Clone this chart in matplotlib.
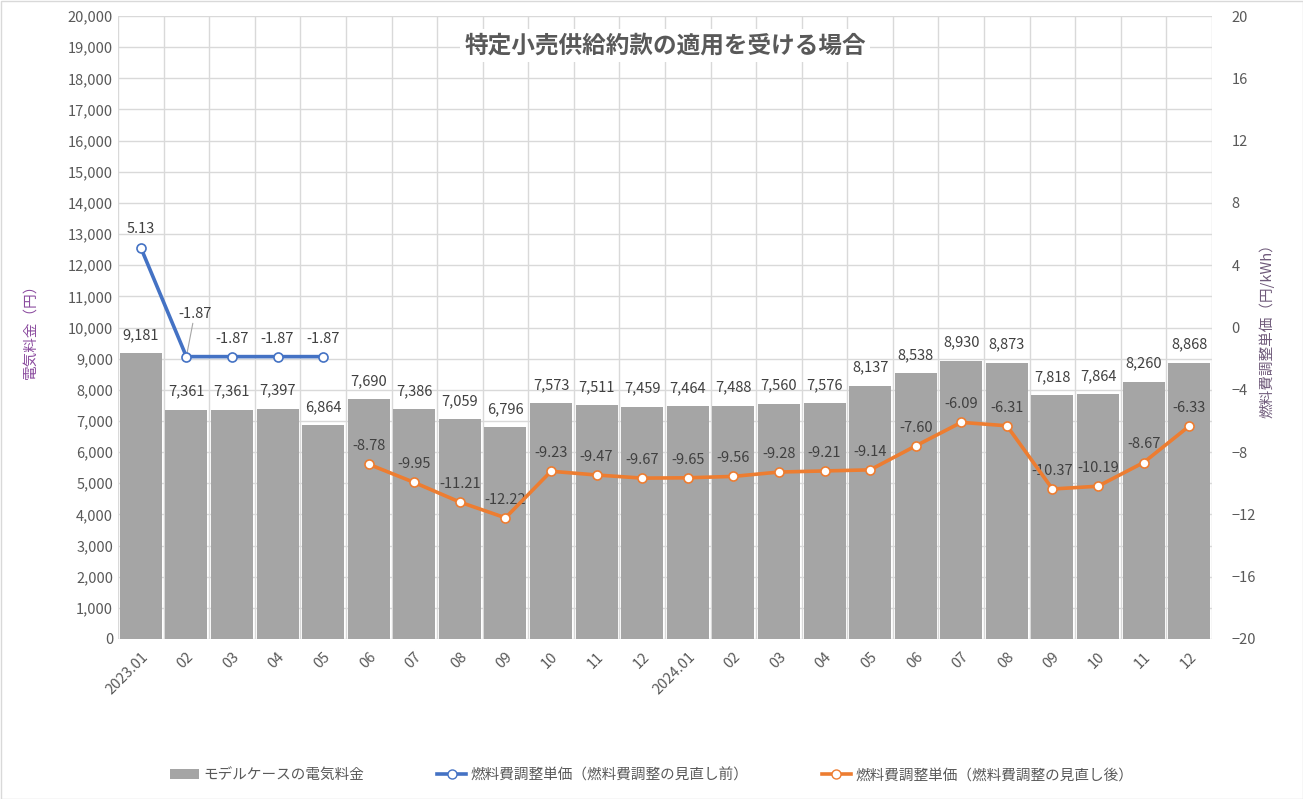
import matplotlib
matplotlib.use("Agg")
import matplotlib.pyplot as plt
from matplotlib.patches import Patch, Rectangle
from matplotlib.lines import Line2D
import numpy as np

plt.rcParams['font.family'] = ['Noto Sans CJK JP', 'DejaVu Sans']

months = ["2023.01", "02", "03", "04", "05", "06", "07", "08", "09", "10", "11", "12",
          "2024.01", "02", "03", "04", "05", "06", "07", "08", "09", "10", "11", "12"]
bill = [9181, 7361, 7361, 7397, 6864, 7690, 7386, 7059, 6796, 7573, 7511, 7459,
        7464, 7488, 7560, 7576, 8137, 8538, 8930, 8873, 7818, 7864, 8260, 8868]
before_idx = [0, 1, 2, 3, 4]
before_vals = [5.13, -1.87, -1.87, -1.87, -1.87]
after_idx = list(range(5, 24))
after_vals = [-8.78, -9.95, -11.21, -12.22, -9.23, -9.47, -9.67, -9.65, -9.56, -9.28,
              -9.21, -9.14, -7.60, -6.09, -6.31, -10.37, -10.19, -8.67, -6.33]

title = "特定小売供給約款の適用を受ける場合"
left_label = "電気料金（円）"
right_label = "燃料費調整単価（円/kWh）"
leg_labels = ["モデルケースの電気料金", "燃料費調整単価（燃料費調整の見直し前）", "燃料費調整単価（燃料費調整の見直し後）"]

GRAY = "#A5A5A5"
BLUE = "#4472C4"
ORANGE = "#ED7D31"
TXT = "#595959"
GRID = "#D9D9D9"
LAB_L = "#8A4A9E"
LAB_R = "#6F5A7A"

fig = plt.figure(figsize=(13.03, 7.99), dpi=100)
ax = fig.add_axes([118/1303, 1-639/799, (1212-118)/1303, (639-16)/799])
x = np.arange(len(months))
ax.bar(x, bill, width=0.92, color=GRAY, zorder=2)
ax.set_xlim(-0.5, len(months)-0.5)
ax.set_ylim(0, 20000)
ax.set_yticks(np.arange(0, 20001, 1000))
ax.set_yticklabels([f"{v:,}" for v in range(0, 20001, 1000)])
ax.set_xticks(x)
ax.set_xticklabels(months, rotation=45, ha='right', rotation_mode='anchor')
ax.set_xticks(np.arange(-0.5, len(months), 1), minor=True)
ax.grid(axis='y', which='major', color=GRID, lw=1, zorder=0)
ax.grid(axis='x', which='minor', color=GRID, lw=1, zorder=0)
ax.grid(axis='x', which='major', visible=False)
ax.tick_params(axis='both', which='both', length=0, colors=TXT, labelsize=10.5)
ax.tick_params(axis='x', pad=8)
for s in ax.spines.values():
    s.set_visible(False)
ax.set_axisbelow(True)
ax.set_ylabel(left_label, color=LAB_L, fontsize=10.5, labelpad=22)

for xi, v in zip(x, bill):
    ax.annotate(f"{v:,}", (xi, v), xytext=(0, 8), textcoords='offset points',
                ha='center', va='bottom', fontsize=10.5, color="#404040", zorder=5)

ax2 = ax.twinx()
ax2.set_ylim(-20, 20)
ax2.set_yticks(np.arange(-20, 21, 4))
ax2.tick_params(axis='y', length=0, colors=TXT, labelsize=10.5, pad=14)
for s in ax2.spines.values():
    s.set_visible(False)
ax2.set_ylabel(right_label, color=LAB_R, fontsize=10.5, labelpad=2)

ax2.plot(before_idx, before_vals, color=BLUE, lw=2.6, marker='o', ms=6.5,
         mfc='white', mec=BLUE, mew=1.2, zorder=4)
ax2.plot(after_idx, after_vals, color=ORANGE, lw=2.6, marker='o', ms=6.5,
         mfc='white', mec=ORANGE, mew=1.2, zorder=4)

for i, (xi, v) in enumerate(zip(before_idx, before_vals)):
    if i == 1:
        ax2.annotate(f"{v:.2f}", (xi, v), xytext=(6, 26), textcoords='offset points',
                     ha='center', va='bottom', fontsize=10.5, color="#404040",
                     arrowprops=dict(arrowstyle='-', color="#A6A6A6", lw=0.8,
                                     shrinkA=0, shrinkB=2))
    else:
        ax2.annotate(f"{v:.2f}", (xi, v), xytext=(0, 8), textcoords='offset points',
                     ha='center', va='bottom', fontsize=10.5, color="#404040")
for xi, v in zip(after_idx, after_vals):
    ax2.annotate(f"{v:.2f}", (xi, v), xytext=(0, 8), textcoords='offset points',
                 ha='center', va='bottom', fontsize=10.5, color="#404040")

ax.text(0.5, 0.953, title, transform=ax.transAxes, ha='center', va='center',
        fontsize=17, fontweight='bold', color=TXT, zorder=6,
        bbox=dict(facecolor='white', edgecolor='none', pad=3))

handles = [Patch(facecolor=GRAY, edgecolor='none'),
           Line2D([], [], color=BLUE, lw=2.6, marker='o', ms=6.5, mfc='white', mec=BLUE),
           Line2D([], [], color=ORANGE, lw=2.6, marker='o', ms=6.5, mfc='white', mec=ORANGE)]
fig.legend(handles, leg_labels, loc='center', bbox_to_anchor=(0.5, 1-775/799), ncol=3,
           frameon=False, fontsize=10.5, labelcolor=TXT, columnspacing=5.0,
           handlelength=2.0, handletextpad=0.3)

fig.patches.append(Rectangle((0.5/1303, 0.5/799), 1-1/1303, 1-1/799, transform=fig.transFigure,
                             fill=False, edgecolor="#D9D9D9", lw=1))
fig.savefig("out.png", dpi=100, facecolor='white')
